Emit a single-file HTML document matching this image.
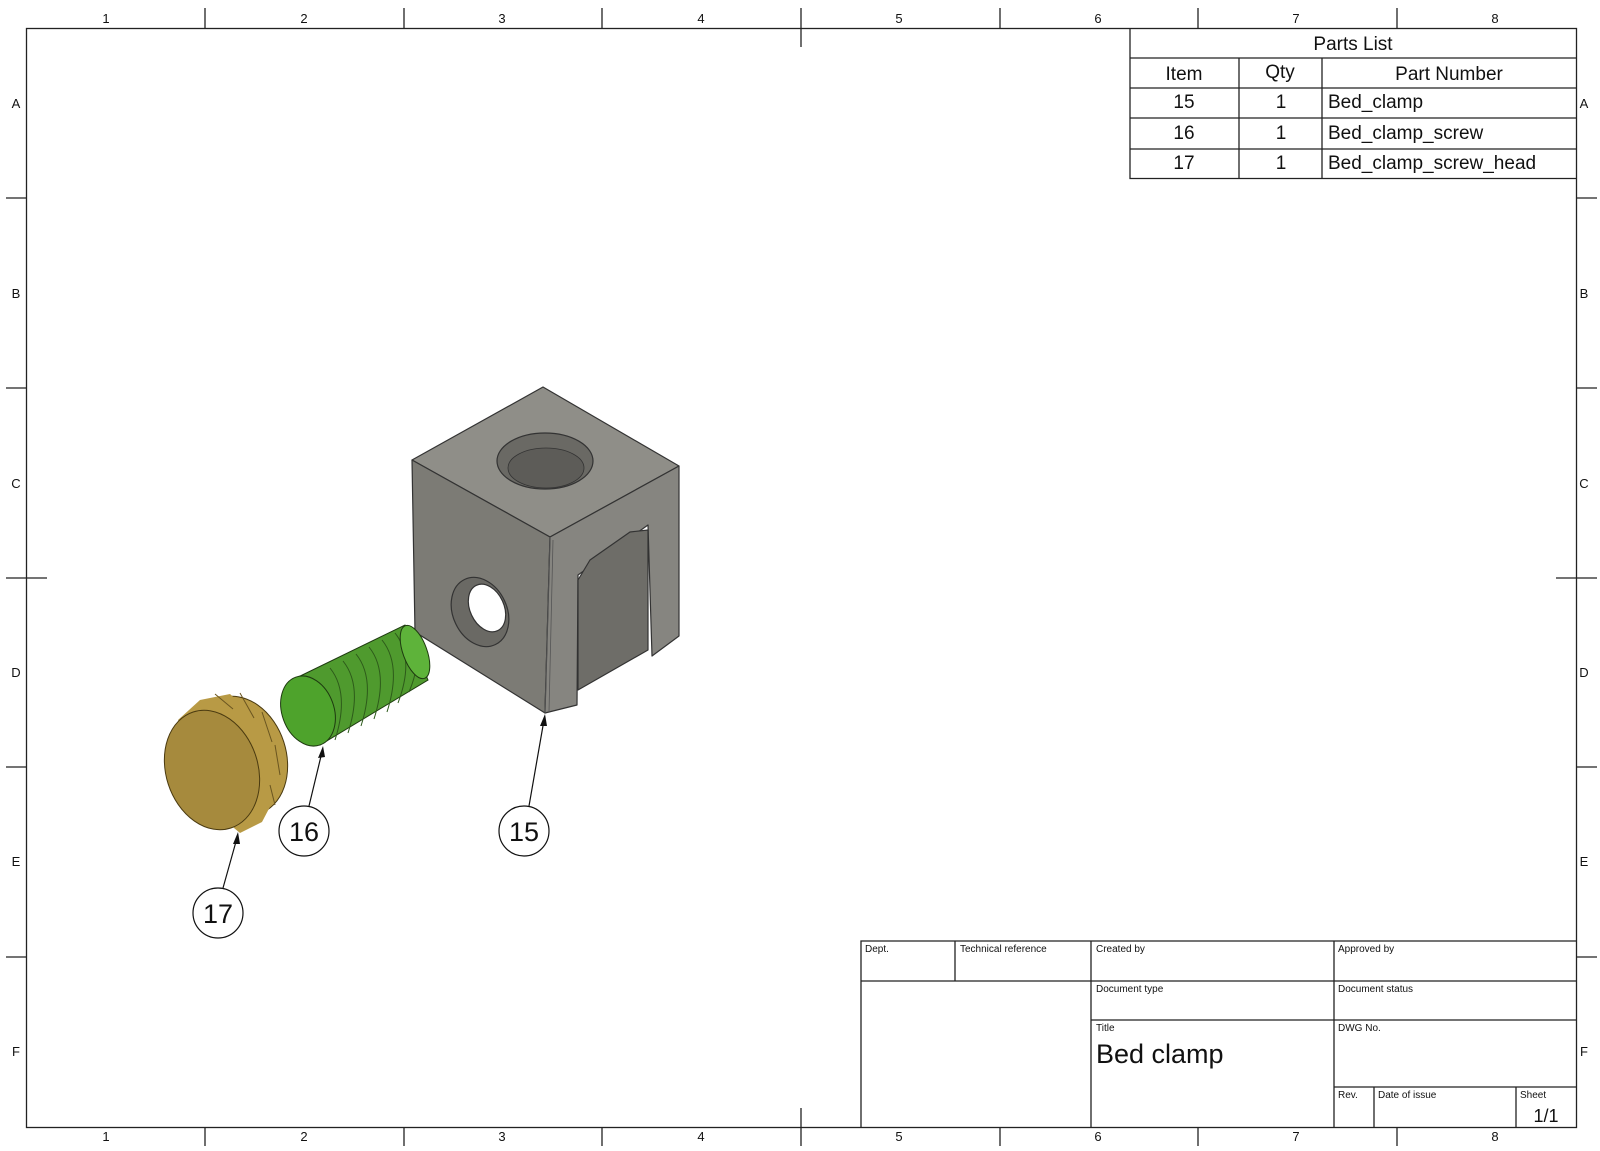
<!DOCTYPE html>
<html><head><style>
body{margin:0;background:#fff}
svg text{font-family:"Liberation Sans",Arial,sans-serif;fill:#111}
</style></head><body>
<svg width="1600" height="1146" viewBox="0 0 1600 1146" xmlns="http://www.w3.org/2000/svg">
<rect width="1600" height="1146" fill="#fff"/>
<g stroke="#222" stroke-width="1.3" fill="none">
<rect x="26.5" y="28.5" width="1550" height="1099"/>
<path d="M205 8V28.5M404 8V28.5M602 8V28.5M801 8V47M1000 8V28.5M1198 8V28.5M1397 8V28.5"/>
<path d="M205 1127.5V1146M404 1127.5V1146M602 1127.5V1146M801 1108V1146M1000 1127.5V1146M1198 1127.5V1146M1397 1127.5V1146"/>
<path d="M6 198H26.5M6 388H26.5M6 578H47M6 767H26.5M6 957H26.5"/>
<path d="M1576.5 198H1597M1576.5 388H1597M1556 578H1597M1576.5 767H1597M1576.5 957H1597"/>
<path d="M1130 28.5V178.5H1576.5M1130 58H1576.5M1130 88H1576.5M1130 118H1576.5M1130 149H1576.5M1239 58V178.5M1322 58V178.5"/>
<path d="M861 1127.5V941H1576.5M861 981H1576.5M1091 1020H1576.5M1334 1087H1576.5M955 941V981M1091 941V1127.5M1334 941V1127.5M1374 1087V1127.5M1516 1087V1127.5"/>
</g>
<g font-size="13" text-anchor="middle">
<text x="106" y="23">1</text><text x="304" y="23">2</text><text x="502" y="23">3</text><text x="701" y="23">4</text><text x="899" y="23">5</text><text x="1098" y="23">6</text><text x="1296" y="23">7</text><text x="1495" y="23">8</text>
<text x="106" y="1141">1</text><text x="304" y="1141">2</text><text x="502" y="1141">3</text><text x="701" y="1141">4</text><text x="899" y="1141">5</text><text x="1098" y="1141">6</text><text x="1296" y="1141">7</text><text x="1495" y="1141">8</text>
<text x="16" y="108">A</text><text x="16" y="298">B</text><text x="16" y="488">C</text><text x="16" y="677">D</text><text x="16" y="866">E</text><text x="16" y="1056">F</text>
<text x="1584" y="108">A</text><text x="1584" y="298">B</text><text x="1584" y="488">C</text><text x="1584" y="677">D</text><text x="1584" y="866">E</text><text x="1584" y="1056">F</text>
</g>
<g font-size="19">
<text x="1353" y="50" text-anchor="middle">Parts List</text>
<text x="1184" y="80" text-anchor="middle">Item</text><text x="1280" y="78" text-anchor="middle">Qty</text><text x="1449" y="80" text-anchor="middle">Part Number</text>
<text x="1184" y="108" text-anchor="middle">15</text><text x="1281" y="108" text-anchor="middle">1</text><text x="1328" y="108">Bed_clamp</text>
<text x="1184" y="139" text-anchor="middle">16</text><text x="1281" y="139" text-anchor="middle">1</text><text x="1328" y="139">Bed_clamp_screw</text>
<text x="1184" y="169" text-anchor="middle">17</text><text x="1281" y="169" text-anchor="middle">1</text><text x="1328" y="169">Bed_clamp_screw_head</text>
</g>
<g font-size="10">
<text x="865" y="952">Dept.</text><text x="960" y="952">Technical reference</text><text x="1096" y="952">Created by</text><text x="1338" y="952">Approved by</text>
<text x="1096" y="992">Document type</text><text x="1338" y="992">Document status</text>
<text x="1096" y="1031">Title</text><text x="1338" y="1031">DWG No.</text>
<text x="1338" y="1098">Rev.</text><text x="1378" y="1098">Date of issue</text><text x="1520" y="1098">Sheet</text>
</g>
<text x="1096" y="1063" font-size="27">Bed clamp</text>
<text x="1546" y="1122" font-size="18" text-anchor="middle">1/1</text>

<!-- block 15 -->
<g stroke="#333" stroke-width="1.2" stroke-linejoin="round">
<polygon points="412,460 543,387 679,466 550,537" fill="#8f8e88"/>
<polygon points="412,460 550,537 545,713 415,632" fill="#7c7b75"/>
<polygon points="550,537 679,466 679,636 652,656 648,525 578,575 577,705 545,713" fill="#868580"/>
<polygon points="578,580 578,690 648,650 648,530 630,532 590,560" fill="#6e6d68"/>
<path d="M550 537L545 713M553 540L549 712" stroke="#555" fill="none" stroke-width="0.8"/>
<ellipse cx="545" cy="461" rx="48" ry="28" fill="#6a6964"/>
<ellipse cx="546" cy="468" rx="38" ry="20" fill="#5d5c58" stroke-width="0.8"/>
<ellipse cx="480" cy="612" rx="27" ry="36" transform="rotate(-25 480 612)" fill="#6a6964"/>
<ellipse cx="487" cy="608" rx="17" ry="25" transform="rotate(-25 487 608)" fill="#fff"/>
</g>
<!-- screw 16 -->
<g stroke="#1e3a10" stroke-width="1">
<polygon points="292,680 405,625 428,680 320,745" fill="#4f9a2e"/>
<g fill="none" stroke="#2d5a1a">
<path d="M330 668q20 25 5 72M343 661q20 25 5 72M356 654q20 25 5 72M369 647q20 25 5 72M382 640q20 25 5 72M395 633q20 25 3 70M406 627q20 25 3 65"/>
</g>
<ellipse cx="415" cy="652" rx="12" ry="28" transform="rotate(-20 415 652)" fill="#5eb33a"/>
<ellipse cx="308" cy="711" rx="26" ry="36" transform="rotate(-20 308 711)" fill="#4ea32c"/>
</g>
<!-- cap 17 -->
<g stroke="#4a3a10" stroke-width="1">
<ellipse cx="240" cy="756" rx="46" ry="61" transform="rotate(-18 240 756)" fill="#b89a45"/>
<polygon points="178,720 200,700 230,694 270,730 284,780 262,822 240,833 210,808" fill="#b89a45" stroke="none"/>
<path d="M215 694l18 15M240 693l14 25M262 712l10 30M275 745l5 30M270 785l5 20" stroke="#6a5520" fill="none"/>
<ellipse cx="212" cy="770" rx="46" ry="61" transform="rotate(-18 212 770)" fill="#a68a3d"/>
</g>
<!-- balloons -->
<g stroke="#111" stroke-width="1.2" fill="#fff">
<circle cx="304" cy="831" r="25"/><circle cx="524" cy="831" r="25"/><circle cx="218" cy="913" r="25"/>
<path d="M309 806L322 752M529 806L544 720M223 888L237 838" fill="none"/>
</g>
<g fill="#111">
<polygon points="323,746 318,758 325,757"/>
<polygon points="545,714 540,726 547,726"/>
<polygon points="238,832 233,844 240,844"/>
</g>
<g font-size="27" text-anchor="middle">
<text x="304" y="841">16</text><text x="524" y="841">15</text><text x="218" y="923">17</text>
</g>
</svg>
</body></html>
